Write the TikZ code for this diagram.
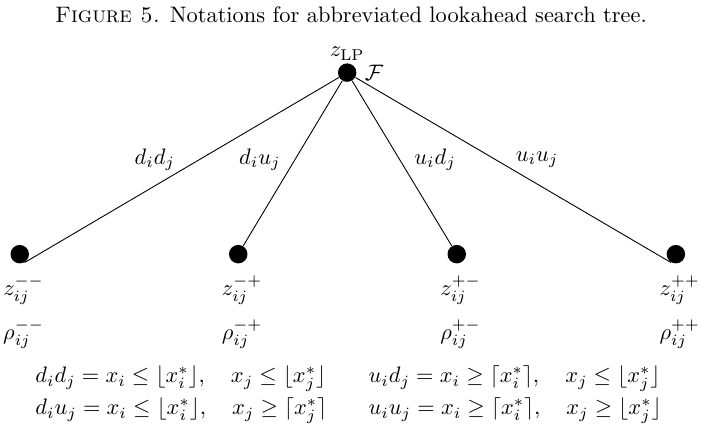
\documentclass[tikz,border=0pt]{standalone}
\usepackage{amsmath,amssymb}
\usepackage{tikz}
\usetikzlibrary{positioning}

\tikzset{
  dot/.style={circle, fill=black, inner sep=0pt, minimum size=0.29cm},
  leaflbl/.style={inner sep=0.5pt},
  eqline/.style={anchor=base west, inner sep=0pt}
}

\begin{document}
\begin{tikzpicture}
  \useasboundingbox (0,0) rectangle (11.02,6.70);
  \node[anchor=base] (title) at (5.51,6.34) {\textsc{Figure 5.} Notations for abbreviated lookahead search tree.};
  % root
  \node[dot, label={[inner sep=1pt]above:{$z_{\mathrm{LP}}$}}, label=right:{$\mathcal{F}$}] (root) at (5.45,5.56) {};
  % leaves
  \foreach \x/\s/\n in {0.31/--/dd, 3.74/-+/du, 7.17/+-/ud, 10.61/++/uu} {
    \node[dot] (\n) at (\x,2.71) {};
    \node[leaflbl] (z\n) at (\x+0.06,2.14) {$z_{ij}^{\s}$};
    \node[leaflbl] (r\n) at (\x+0.06,1.45) {$\rho_{ij}^{\s}$};
  }
  \draw (root) -- (dd.-60);
  \draw (root) -- (du);
  \draw (root) -- (ud);
  \draw (root) -- (uu.-120);
  % branch labels
  \node (ldd) at (2.43,4.19) {$d_id_j$};
  \node (ldu) at (4.08,4.19) {$d_iu_j$};
  \node (lud) at (6.83,4.19) {$u_id_j$};
  \node (luu) at (8.43,4.19) {$u_iu_j$};
  % notation
  \node[eqline] (e1) at (0.55,0.69) {$d_id_j = x_i \le \lfloor x_i^*\rfloor, \quad x_j \le \lfloor x_j^*\rfloor$};
  \node[eqline] (e2) at (0.55,0.19) {$d_iu_j = x_i \le \lfloor x_i^*\rfloor, \quad x_j \ge \lceil x_j^*\rceil$};
  \node[eqline] (e3) at (5.78,0.69) {$u_id_j = x_i \ge \lceil x_i^*\rceil, \quad x_j \le \lfloor x_j^*\rfloor$};
  \node[eqline] (e4) at (5.78,0.19) {$u_iu_j = x_i \ge \lceil x_i^*\rceil, \quad x_j \ge \lfloor x_j^*\rfloor$};
\end{tikzpicture}
\end{document}
